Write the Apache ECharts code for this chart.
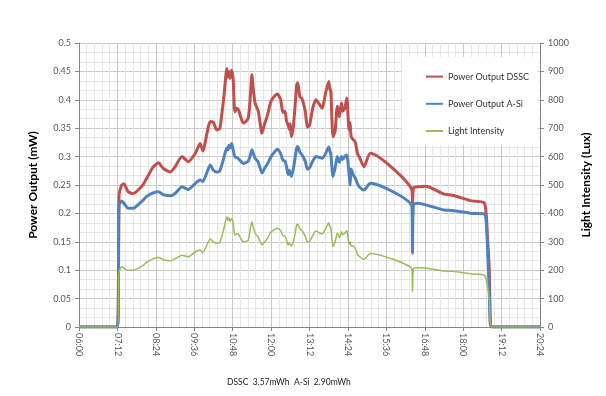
<!DOCTYPE html>
<html>
<head>
<meta charset="utf-8">
<script src="https://cdn.jsdelivr.net/npm/echarts@6/dist/echarts.min.js"></script>
<style>
    html, body { margin: 0; padding: 0; background: #fff; }
    #chart { width: 606px; height: 396px; }
</style>
</head>
<body>
<div id="chart"></div>
<script>
// times as HH:MM
const times = [
    '06:00', '07:12', '07:15', '07:20', '07:24', '07:32', '07:42', '07:54', '08:01', '08:07',
    '08:19', '08:29', '08:38', '08:51', '09:00', '09:13', '09:25', '09:38', '09:47', '09:52',
    '10:06', '10:12', '10:18', '10:24', '10:32', '10:37', '10:39', '10:41', '10:43', '10:46',
    '10:49', '10:52', '10:56', '10:59', '11:03', '11:08', '11:17', '11:21', '11:24', '11:27',
    '11:30', '11:36', '11:43', '11:48', '11:53', '12:00', '12:08', '12:12', '12:18', '12:22',
    '12:26', '12:29', '12:32', '12:34', '12:36', '12:38', '12:42', '12:48', '12:50', '12:54',
    '12:58', '13:04', '13:08', '13:12', '13:18', '13:24', '13:32', '13:36', '13:42', '13:48',
    '13:50', '13:52', '13:56', '14:00', '14:04', '14:06', '14:08', '14:12', '14:14', '14:18',
    '14:22', '14:26', '14:28', '14:30', '14:34', '14:38', '14:42', '14:46', '14:54', '15:06',
    '16:24', '16:25', '16:27', '16:36', '16:50', '17:24', '17:40', '18:16', '18:40', '18:46',
    '18:49', '18:51', '18:54', '20:24'
];
const dssc = [
    0, 0, 0.232, 0.250, 0.252, 0.238, 0.235, 0.244, 0.252, 0.262,
    0.282, 0.289, 0.279, 0.273, 0.282, 0.300, 0.291, 0.306, 0.323, 0.310,
    0.362, 0.360, 0.347, 0.350, 0.410, 0.455, 0.440, 0.450, 0.438, 0.452,
    0.435, 0.379, 0.385, 0.382, 0.370, 0.359, 0.367, 0.405, 0.444, 0.415,
    0.394, 0.380, 0.341, 0.358, 0.372, 0.398, 0.408, 0.410, 0.400, 0.378,
    0.380, 0.362, 0.356, 0.348, 0.358, 0.335, 0.355, 0.426, 0.430, 0.405,
    0.402, 0.380, 0.352, 0.355, 0.385, 0.400, 0.390, 0.385, 0.411, 0.432,
    0.420, 0.415, 0.335, 0.345, 0.388, 0.385, 0.370, 0.395, 0.380, 0.385,
    0.403, 0.347, 0.360, 0.335, 0.330, 0.325, 0.305, 0.298, 0.282, 0.306,
    0.241, 0.218, 0.245, 0.247, 0.248, 0.234, 0.232, 0.222, 0.218, 0.150,
    0.100, 0.005, 0, 0
];
const asi = [
    0, 0, 0.215, 0.222, 0.218, 0.209, 0.209, 0.218, 0.224, 0.230,
    0.236, 0.238, 0.233, 0.231, 0.235, 0.247, 0.242, 0.253, 0.259, 0.256,
    0.285, 0.276, 0.273, 0.275, 0.300, 0.315, 0.312, 0.320, 0.315, 0.323,
    0.312, 0.300, 0.298, 0.296, 0.292, 0.288, 0.292, 0.302, 0.312, 0.305,
    0.297, 0.290, 0.271, 0.280, 0.287, 0.300, 0.310, 0.313, 0.305, 0.294,
    0.292, 0.282, 0.268, 0.276, 0.270, 0.265, 0.280, 0.315, 0.318, 0.308,
    0.303, 0.292, 0.278, 0.280, 0.292, 0.300, 0.298, 0.297, 0.305, 0.317,
    0.310, 0.305, 0.265, 0.280, 0.300, 0.295, 0.290, 0.300, 0.295, 0.300,
    0.303, 0.271, 0.250, 0.278, 0.268, 0.262, 0.252, 0.246, 0.241, 0.253,
    0.212, 0.130, 0.216, 0.218, 0.215, 0.206, 0.205, 0.200, 0.199, 0.130,
    0.060, 0.005, 0, 0
];
const light = [
    0, 0, 195, 212, 207, 200, 200, 210, 218, 228,
    240, 245, 237, 233, 240, 253, 247, 265, 271, 262,
    310, 300, 295, 298, 350, 388, 375, 385, 372, 382,
    365, 324, 328, 326, 312, 300, 305, 345, 371, 350,
    330, 316, 289, 300, 312, 335, 345, 348, 340, 322,
    320, 305, 289, 296, 291, 285, 300, 359, 362, 345,
    340, 320, 300, 302, 322, 338, 330, 328, 345, 367,
    355, 350, 283, 300, 330, 325, 315, 335, 325, 330,
    340, 292, 300, 285, 285, 275, 255, 248, 238, 259,
    203, 124, 207, 209, 208, 197, 196, 187, 182, 140,
    100, 10, 0, 0
];
const footer = 'DSSC  3.57mWh  A-Si  2.90mWh';

function toMin(s) {
    let p = s.split(':');
    return parseInt(p[0], 10) * 60 + parseInt(p[1], 10);
}
function pad(n) {
    return (n < 10 ? '0' : '') + n;
}
function pairs(vals) {
    return times.map((t, i) => [toMin(t), vals[i]]);
}

const font = 'Lato, "Liberation Sans", sans-serif';
const axisGray = '#868686';
const labelGray = '#595959';

let myChart = echarts.init(document.getElementById('chart'));
let option = {
    animation: false,
    textStyle: { fontFamily: font },
    grid: { left: 79, right: 66, top: 43, bottom: 69 },
    title: {
        text: footer,
        left: 222,
        top: 373,
        textStyle: { fontSize: 8.5, fontWeight: 'normal', color: '#222', fontFamily: font }
    },
    graphic: [{
        type: 'rect',
        z: 3,
        shape: { x: 402, y: 57, width: 136, height: 88 },
        style: { fill: '#fff' }
    }],
    legend: {
        orient: 'vertical',
        left: 420,
        top: 66,
        itemWidth: 17,
        itemHeight: 14,
        itemGap: 16,
        itemStyle: { opacity: 0 },
        textStyle: { fontSize: 9, color: '#333', fontFamily: font },
        data: ['Power Output DSSC', 'Power Output A-Si', 'Light Intensity']
    },
    xAxis: {
        type: 'value',
        min: 360,
        max: 1224,
        interval: 72,
        axisLine: { show: true, lineStyle: { color: axisGray } },
        axisTick: { show: true, length: 4, lineStyle: { color: axisGray } },
        axisLabel: {
            rotate: -90,
            margin: 6,
            fontSize: 9,
            color: labelGray,
            formatter: v => pad(Math.floor(v / 60)) + ':' + pad(v % 60)
        },
        splitLine: { show: true, lineStyle: { color: '#c8c8c8' } },
        minorTick: { show: false, splitNumber: 5 },
        minorSplitLine: { show: true, lineStyle: { color: '#e6e6e6' } }
    },
    yAxis: [{
        type: 'value',
        min: 0,
        max: 0.5,
        interval: 0.05,
        name: 'Power Output (mW)',
        nameLocation: 'middle',
        nameRotate: 90,
        nameGap: 40,
        nameTextStyle: { fontSize: 12, fontWeight: 'bold', color: '#000', fontFamily: font },
        axisLine: { show: true, lineStyle: { color: axisGray } },
        axisTick: { show: true, length: 4, lineStyle: { color: axisGray } },
        axisLabel: { fontSize: 9, color: labelGray, margin: 8 },
        splitLine: { show: true, lineStyle: { color: '#c8c8c8' } },
        minorTick: { show: false, splitNumber: 3 },
        minorSplitLine: { show: true, lineStyle: { color: '#e6e6e6' } }
    }, {
        type: 'value',
        min: 0,
        max: 1000,
        interval: 100,
        position: 'right',
        name: 'Light Intensity (Lux)',
        nameLocation: 'middle',
        nameRotate: 90,
        nameGap: 33,
        nameTextStyle: { fontSize: 12, fontWeight: 'bold', color: '#000', fontFamily: font },
        axisLine: { show: true, lineStyle: { color: axisGray } },
        axisTick: { show: true, length: 4, lineStyle: { color: axisGray } },
        axisLabel: { fontSize: 9, color: labelGray, margin: 8, formatter: v => String(v) },
        splitLine: { show: false }
    }],
    series: [{
        name: 'Power Output DSSC',
        type: 'line',
        showSymbol: false,
        symbol: 'none',
        smooth: 0.2,
        color: '#C0504D',
        lineStyle: { width: 3, color: '#C0504D' },
        data: pairs(dssc)
    }, {
        name: 'Power Output A-Si',
        type: 'line',
        showSymbol: false,
        symbol: 'none',
        smooth: 0.2,
        color: '#4F81BD',
        lineStyle: { width: 3, color: '#4F81BD' },
        data: pairs(asi)
    }, {
        name: 'Light Intensity',
        type: 'line',
        yAxisIndex: 1,
        showSymbol: false,
        symbol: 'none',
        smooth: 0.2,
        color: '#9BBB59',
        lineStyle: { width: 1.5, color: '#9BBB59' },
        data: pairs(light)
    }]
};
myChart.setOption(option);
</script>
</body>
</html>
